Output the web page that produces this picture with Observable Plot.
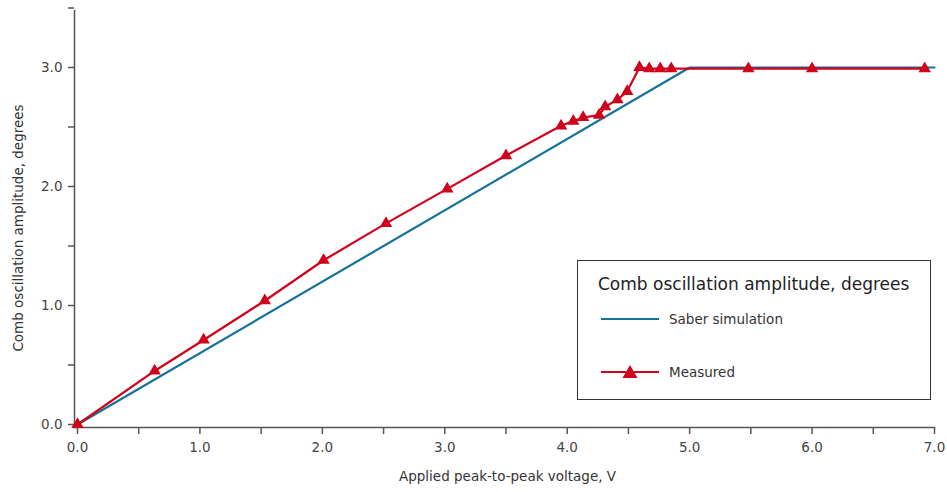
<!DOCTYPE html>
<html>
<head>
<meta charset="utf-8">
<script src="https://cdn.jsdelivr.net/npm/d3@7"></script>
<script src="https://cdn.jsdelivr.net/npm/@observablehq/plot@0.6"></script>
<style>
  body { margin: 0; background: #fff; }
  #wrap { position: relative; width: 947px; height: 492px; font-family: "DejaVu Sans", Verdana, sans-serif; }
  #legend { position: absolute; left: 577px; top: 260px; width: 354px; height: 140px; border: 1.5px solid #333; background: #fff; box-sizing: border-box; color: #222; }
  #legend .title { position: absolute; left: 20px; top: 13px; font-size: 17px; white-space: nowrap; color: #222; }
  #legend .item { position: absolute; left: 23px; font-size: 13.5px; color: #333; display: flex; align-items: center; white-space: nowrap; }
  #legend .item svg { margin-right: 10px; }
</style>
</head>
<body>
<div id="wrap"></div>
<script>
// Data
const simVoltage = [0, 5.0, 7.0];
const simAmplitude = [0, 3.0, 3.0];

const measVoltage = [0, 0.63, 1.03, 1.53, 2.01, 2.52, 3.02, 3.50, 3.95, 4.05, 4.13, 4.26, 4.31, 4.41, 4.49, 4.59, 4.67, 4.76, 4.85, 5.48, 6.0, 6.92];
const measAmplitude = [0, 0.45, 0.71, 1.04, 1.38, 1.69, 1.98, 2.26, 2.51, 2.55, 2.58, 2.60, 2.67, 2.73, 2.80, 3.0, 2.99, 2.99, 2.99, 2.99, 2.99, 2.99];

const xTicks = [0, 0.5, 1, 1.5, 2, 2.5, 3, 3.5, 4, 4.5, 5, 5.5, 6, 6.5, 7];
const yTicks = [0, 0.5, 1, 1.5, 2, 2.5, 3, 3.5];
const xLabelTicks = [0, 1, 2, 3, 4, 5, 6, 7];
const yLabelTicks = [0, 1, 2, 3];

const xTitle = "Applied peak-to-peak voltage, V";
const yTitle = "Comb oscillation amplitude, degrees";
const legendTitle = "Comb oscillation amplitude, degrees";
const seriesNames = ["Saber simulation", "Measured"];
const colors = ["#13719a", "#d0021b"];

const sim = simVoltage.map((v, i) => ({x: v, y: simAmplitude[i]}));
const meas = measVoltage.map((v, i) => ({x: v, y: measAmplitude[i]}));

const fmt = d => (xLabelTicks.includes(d) ? d.toFixed(1) : "");
const fmtY = d => (yLabelTicks.includes(d) ? d.toFixed(1) : "");

const chart = Plot.plot({
  width: 947,
  height: 492,
  marginLeft: 74,
  marginRight: 13,
  marginTop: 10,
  marginBottom: 65,
  x: {domain: [0, 7], range: [77, 934]},
  y: {domain: [0, 3.5], range: [424, 7.5]},
  style: {fontFamily: "DejaVu Sans, Verdana, sans-serif", fontSize: "13.5px", color: "#444", background: "#fff"},
  marks: [
    Plot.frame({anchor: "bottom", stroke: "#555", strokeWidth: 1.5}),
    Plot.frame({anchor: "left", stroke: "#555", strokeWidth: 1.5}),
    Plot.axisX({ticks: xTicks, tickSize: 7, tickPadding: 8, tickFormat: fmt, label: null, stroke: "#555", strokeWidth: 1.5, fill: "#444"}),
    Plot.axisY({ticks: yTicks, tickSize: 6, tickPadding: 6, tickFormat: fmtY, label: null, stroke: "#555", strokeWidth: 1.5, fill: "#444"}),
    Plot.text([xTitle], {frameAnchor: "bottom", dy: 53, dx: 3, fontSize: 13.5, fill: "#333"}),
    Plot.text([yTitle], {frameAnchor: "left", textAnchor: "middle", rotate: -90, dx: -56, dy: 9, fontSize: 13.5, fill: "#333"}),
    Plot.line(sim, {x: "x", y: "y", stroke: colors[0], strokeWidth: 2.2}),
    Plot.line(meas, {x: "x", y: "y", stroke: colors[1], strokeWidth: 2.2}),
    Plot.dot(meas, {x: "x", y: "y", symbol: "triangle", r: 4.6, fill: colors[1], stroke: "none"})
  ]
});

const wrap = document.getElementById("wrap");
wrap.appendChild(chart);

const legend = document.createElement("div");
legend.id = "legend";
legend.innerHTML = `
  <div class="title">${legendTitle}</div>
  <div class="item" style="top:50px">
    <svg width="58" height="12"><line x1="0" x2="58" y1="6" y2="6" stroke="${colors[0]}" stroke-width="2.2"/></svg>
    <span>${seriesNames[0]}</span>
  </div>
  <div class="item" style="top:103px">
    <svg width="58" height="14"><line x1="0" x2="58" y1="7" y2="7" stroke="${colors[1]}" stroke-width="2.2"/><path d="M29,0 L36.5,13 L21.5,13 Z" fill="${colors[1]}"/></svg>
    <span>${seriesNames[1]}</span>
  </div>`;
wrap.appendChild(legend);
</script>
</body>
</html>
